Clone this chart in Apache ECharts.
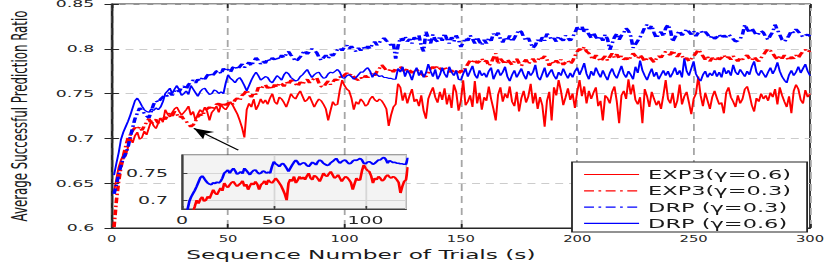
<!DOCTYPE html>
<html><head><meta charset="utf-8">
<script src="https://cdn.jsdelivr.net/npm/echarts@6/dist/echarts.min.js"></script>
<style>
html,body{margin:0;padding:0;background:#fff;overflow:hidden;width:831px;height:262px}
#wrap{width:831px;height:262px;overflow:hidden;position:relative}
#chart{position:absolute;left:0;top:0;height:262px;transform-origin:0 0}
</style></head><body><div id="wrap"><div id="chart"></div></div>
<script>
// ---------- data ----------
const seriesNames = ['EXP3(\u03b3=0.6)', 'EXP3(\u03b3=0.3)', 'DRP (\u03b3=0.3)', 'DRP (\u03b3=0.6)'];
const trials = []; for (let i = 1; i <= 300; i++) trials.push(i);

const exp3g06 = [
0.640,0.655,0.668,0.676,0.682,0.680,0.690,0.701,0.695,0.703,
0.707,0.699,0.701,0.708,0.704,0.712,0.720,0.714,0.711,0.717,
0.723,0.718,0.732,0.727,0.724,0.729,0.733,0.735,0.730,0.726,
0.729,0.732,0.736,0.726,0.730,0.720,0.727,0.732,0.729,0.735,
0.730,0.720,0.729,0.732,0.736,0.729,0.738,0.734,0.732,0.736,
0.741,0.737,0.732,0.727,0.720,0.712,0.701,0.732,0.739,0.735,
0.744,0.732,0.737,0.744,0.739,0.743,0.738,0.745,0.750,0.741,
0.738,0.746,0.744,0.740,0.735,0.742,0.750,0.746,0.744,0.749,
0.753,0.747,0.741,0.743,0.747,0.741,0.735,0.740,0.744,0.742,
0.738,0.733,0.720,0.731,0.741,0.737,0.738,0.754,0.765,0.759,
0.755,0.753,0.745,0.732,0.741,0.738,0.744,0.741,0.736,0.738,
0.744,0.747,0.743,0.741,0.744,0.742,0.738,0.733,0.714,0.726,
0.735,0.738,0.761,0.757,0.742,0.751,0.739,0.748,0.755,0.741,
0.744,0.736,0.748,0.731,0.722,0.744,0.751,0.757,0.746,0.740,
0.752,0.743,0.756,0.738,0.749,0.734,0.760,0.752,0.731,0.742,
0.765,0.737,0.741,0.748,0.735,0.764,0.739,0.751,0.732,0.746,
0.742,0.758,0.744,0.733,0.720,0.749,0.757,0.741,0.750,0.745,
0.758,0.741,0.736,0.752,0.730,0.745,0.753,0.740,0.747,0.761,
0.739,0.751,0.733,0.746,0.737,0.713,0.742,0.752,0.720,0.757,
0.748,0.765,0.753,0.737,0.746,0.756,0.743,0.750,0.734,0.752,
0.765,0.747,0.758,0.739,0.753,0.744,0.751,0.757,0.736,0.742,
0.720,0.748,0.745,0.739,0.752,0.758,0.741,0.717,0.748,0.753,
0.744,0.766,0.749,0.760,0.743,0.738,0.746,0.717,0.755,0.747,
0.735,0.752,0.744,0.737,0.742,0.733,0.748,0.765,0.744,0.739,
0.751,0.734,0.742,0.760,0.738,0.747,0.752,0.740,0.727,0.744,
0.750,0.769,0.748,0.736,0.751,0.742,0.733,0.746,0.753,0.745,
0.738,0.740,0.728,0.751,0.757,0.746,0.741,0.735,0.748,0.739,
0.744,0.755,0.758,0.749,0.737,0.730,0.745,0.741,0.750,0.744,
0.748,0.742,0.751,0.746,0.755,0.738,0.757,0.748,0.741,0.735,
0.747,0.728,0.753,0.760,0.755,0.743,0.739,0.754,0.746,0.750
];

const exp3g03 = [
0.601,0.630,0.652,0.668,0.680,0.691,0.700,0.704,0.709,0.712,
0.710,0.713,0.709,0.714,0.718,0.722,0.716,0.720,0.721,0.717,
0.722,0.724,0.721,0.726,0.728,0.725,0.730,0.727,0.723,0.725,
0.721,0.719,0.716,0.713,0.715,0.719,0.724,0.727,0.725,0.731,
0.733,0.735,0.732,0.736,0.738,0.739,0.735,0.740,0.737,0.739,
0.741,0.738,0.743,0.745,0.742,0.748,0.750,0.754,0.749,0.746,
0.751,0.749,0.757,0.755,0.758,0.760,0.756,0.759,0.755,0.760,
0.757,0.762,0.761,0.758,0.763,0.760,0.765,0.764,0.761,0.758,
0.763,0.760,0.764,0.766,0.762,0.765,0.767,0.768,0.762,0.758,
0.757,0.761,0.764,0.760,0.763,0.766,0.765,0.769,0.767,0.771,
0.773,0.770,0.772,0.769,0.766,0.765,0.768,0.766,0.770,0.768,
0.771,0.773,0.770,0.775,0.778,0.782,0.779,0.776,0.775,0.778,
0.774,0.778,0.776,0.780,0.777,0.774,0.778,0.776,0.773,0.775,
0.777,0.774,0.772,0.770,0.769,0.773,0.778,0.780,0.777,0.781,
0.778,0.776,0.780,0.777,0.774,0.776,0.773,0.775,0.772,0.776,
0.774,0.779,0.783,0.787,0.785,0.788,0.784,0.786,0.789,0.785,
0.787,0.781,0.784,0.790,0.795,0.783,0.789,0.786,0.783,0.788,
0.785,0.782,0.786,0.789,0.784,0.781,0.785,0.788,0.783,0.786,
0.789,0.785,0.787,0.791,0.789,0.792,0.788,0.781,0.786,0.783,
0.787,0.784,0.788,0.782,0.785,0.787,0.783,0.786,0.792,0.797,
0.800,0.798,0.802,0.797,0.795,0.791,0.788,0.793,0.790,0.786,
0.789,0.792,0.787,0.791,0.795,0.790,0.794,0.789,0.792,0.788,
0.790,0.787,0.791,0.795,0.792,0.789,0.793,0.790,0.786,0.789,
0.791,0.788,0.785,0.789,0.792,0.790,0.794,0.797,0.795,0.793,
0.798,0.794,0.791,0.795,0.792,0.788,0.790,0.786,0.789,0.792,
0.795,0.799,0.796,0.792,0.788,0.791,0.786,0.790,0.787,0.791,
0.788,0.790,0.793,0.789,0.791,0.788,0.792,0.789,0.786,0.790,
0.788,0.791,0.793,0.789,0.787,0.791,0.788,0.786,0.790,0.793,
0.797,0.800,0.798,0.795,0.791,0.788,0.792,0.789,0.793,0.790,
0.787,0.791,0.789,0.793,0.790,0.794,0.797,0.799,0.796,0.798
];

const drpg03 = [
0.638,0.648,0.660,0.670,0.678,0.683,0.690,0.702,0.712,0.722,
0.728,0.734,0.731,0.728,0.725,0.723,0.730,0.738,0.742,0.740,
0.744,0.746,0.749,0.747,0.751,0.748,0.753,0.755,0.752,0.757,
0.758,0.755,0.760,0.763,0.765,0.762,0.766,0.764,0.768,0.766,
0.770,0.773,0.769,0.772,0.775,0.776,0.772,0.778,0.775,0.777,
0.774,0.779,0.781,0.777,0.780,0.783,0.779,0.782,0.785,0.781,
0.786,0.790,0.787,0.783,0.786,0.784,0.789,0.786,0.790,0.788,
0.791,0.788,0.793,0.790,0.794,0.797,0.793,0.790,0.786,0.788,
0.791,0.795,0.798,0.794,0.797,0.800,0.798,0.796,0.791,0.787,
0.790,0.793,0.789,0.794,0.792,0.796,0.799,0.801,0.798,0.802,
0.804,0.800,0.803,0.799,0.797,0.801,0.798,0.802,0.799,0.803,
0.800,0.805,0.808,0.804,0.807,0.810,0.812,0.809,0.807,0.804,
0.806,0.789,0.803,0.812,0.809,0.814,0.808,0.811,0.806,0.813,
0.809,0.815,0.803,0.797,0.819,0.812,0.806,0.816,0.810,0.808,
0.814,0.809,0.817,0.811,0.806,0.813,0.808,0.815,0.810,0.802,
0.807,0.812,0.809,0.815,0.811,0.806,0.813,0.808,0.804,0.810,
0.806,0.812,0.809,0.817,0.814,0.818,0.811,0.807,0.813,0.809,
0.815,0.808,0.812,0.817,0.821,0.819,0.813,0.809,0.812,0.806,
0.801,0.804,0.810,0.807,0.813,0.809,0.817,0.814,0.810,0.812,
0.808,0.814,0.811,0.809,0.815,0.812,0.809,0.813,0.818,0.824,
0.821,0.825,0.819,0.822,0.816,0.812,0.818,0.813,0.810,0.814,
0.809,0.816,0.811,0.799,0.806,0.813,0.817,0.810,0.815,0.818,
0.823,0.820,0.814,0.801,0.805,0.809,0.813,0.818,0.824,0.827,
0.822,0.826,0.818,0.812,0.816,0.819,0.814,0.823,0.827,0.821,
0.808,0.813,0.817,0.820,0.815,0.818,0.822,0.819,0.816,0.820,
0.814,0.818,0.820,0.817,0.819,0.816,0.812,0.815,0.811,0.813,
0.816,0.812,0.815,0.813,0.816,0.814,0.811,0.808,0.809,0.811,
0.816,0.827,0.822,0.818,0.823,0.819,0.815,0.817,0.820,0.818,
0.813,0.810,0.815,0.819,0.827,0.821,0.816,0.810,0.808,0.811,
0.815,0.820,0.818,0.822,0.819,0.816,0.813,0.815,0.816,0.814
];

const drpg06 = [
0.659,0.672,0.684,0.699,0.707,0.713,0.719,0.726,0.734,0.742,
0.745,0.741,0.736,0.732,0.730,0.729,0.733,0.731,0.734,0.732,
0.735,0.741,0.750,0.753,0.756,0.750,0.755,0.759,0.754,0.748,
0.750,0.753,0.749,0.759,0.755,0.751,0.747,0.752,0.755,0.756,
0.752,0.749,0.750,0.754,0.753,0.750,0.752,0.750,0.762,0.771,
0.767,0.765,0.762,0.766,0.768,0.764,0.759,0.753,0.759,0.765,
0.770,0.774,0.770,0.765,0.767,0.769,0.768,0.764,0.762,0.766,
0.770,0.768,0.765,0.771,0.774,0.772,0.768,0.766,0.764,0.765,
0.769,0.771,0.774,0.777,0.772,0.768,0.771,0.773,0.774,0.770,
0.767,0.768,0.772,0.774,0.773,0.775,0.777,0.774,0.768,0.767,
0.770,0.771,0.769,0.766,0.768,0.771,0.774,0.774,0.777,0.779,
0.775,0.768,0.773,0.771,0.769,0.770,0.768,0.768,0.767,0.767,
0.766,0.766,0.778,0.774,0.780,0.769,0.776,0.772,0.765,0.774,
0.779,0.770,0.776,0.768,0.773,0.783,0.775,0.769,0.777,0.766,
0.771,0.779,0.772,0.768,0.780,0.774,0.770,0.776,0.766,0.765,
0.772,0.778,0.769,0.775,0.781,0.771,0.767,0.776,0.770,0.773,
0.768,0.775,0.779,0.766,0.772,0.777,0.770,0.774,0.780,0.769,
0.764,0.771,0.776,0.768,0.773,0.778,0.771,0.766,0.775,0.770,
0.774,0.782,0.769,0.765,0.772,0.779,0.768,0.773,0.777,0.770,
0.766,0.774,0.770,0.778,0.772,0.767,0.773,0.768,0.775,0.779,
0.771,0.777,0.784,0.772,0.766,0.775,0.770,0.779,0.773,0.768,
0.776,0.770,0.765,0.773,0.778,0.771,0.767,0.774,0.781,0.772,
0.768,0.775,0.771,0.766,0.780,0.773,0.787,0.776,0.770,0.765,
0.772,0.778,0.769,0.774,0.766,0.771,0.776,0.770,0.775,0.768,
0.773,0.779,0.771,0.776,0.768,0.789,0.775,0.770,0.778,0.786,
0.772,0.767,0.764,0.771,0.775,0.768,0.773,0.770,0.776,0.769,
0.774,0.768,0.779,0.772,0.776,0.770,0.782,0.774,0.771,0.777,
0.773,0.769,0.775,0.771,0.780,0.786,0.774,0.770,0.776,0.772,
0.768,0.774,0.779,0.772,0.777,0.785,0.775,0.769,0.765,0.762,
0.771,0.776,0.770,0.774,0.780,0.773,0.778,0.783,0.775,0.770
];

const xRange = [0, 300], xStep = 50;
const yRange = [0.6, 0.85], yStep = 0.05;
const insetCount = 123;            // trials shown in the zoomed inset
const insetX = [0, 122];
const insetY = [0.685, 0.783];
const arrowFrom = [54.4, 0.687];   // annotation arrow (data coords)
const arrowTo = [35.3, 0.7112];

// ---------- layout ----------
const S = 1.8;                      // the reference is stretched horizontally
const W = 831 / S;
const el = document.getElementById('chart');
el.style.width = W + 'px';
el.style.transform = 'scaleX(' + S + ')';
const px = v => v / S;
const FONT = 'DejaVu Sans';
const INK = '#262626';
const pairs = (arr, n) => arr.slice(0, n || arr.length).map((v, i) => [trials[i], v]);
const DASHDOT = [5.5, 2.5, 1.5, 2.5];

const chart = echarts.init(el, null, { renderer: 'svg', width: W, height: 262 });

const option = {
  animation: false,
  backgroundColor: '#fff',
  grid: [
    { left: px(111.7), right: px(831 - 810), top: 4, bottom: 262 - 228, outerBoundsMode: 'none',
      show: true, borderColor: INK, borderWidth: 1, backgroundColor: 'transparent' },
    { left: px(182), right: px(831 - 406), top: 155, bottom: 262 - 209, outerBoundsMode: 'none',
      show: true, borderColor: '#404040', borderWidth: 1, backgroundColor: '#f3f3f3', z: 5 }
  ],
  legend: {
    data: seriesNames, orient: 'vertical',
    left: px(572), top: 162,
    padding: [6, px(16), 2, px(11)],
    itemWidth: px(55), itemHeight: 12, itemGap: 3.3,
    backgroundColor: '#fff', borderColor: INK, borderWidth: 1, borderRadius: 0,
    itemStyle: { opacity: 0, borderWidth: 0 },
    lineStyle: { width: 1.2 },
    textStyle: { fontFamily: FONT, fontSize: 12.5, color: '#1a1a1a' },
    selectedMode: false
  },
  xAxis: [
    { gridIndex: 0, type: 'value', min: xRange[0], max: xRange[1], interval: xStep,
      axisLine: { show: true, lineStyle: { color: INK } },
      axisTick: { show: true, inside: true, length: 4, lineStyle: { color: INK } },
      axisLabel: { fontFamily: FONT, fontSize: 8.2, color: INK, margin: 7.5 },
      splitLine: { show: true, lineStyle: { color: '#a6a6a6', type: [7, 5], width: 1 } },
      name: 'Sequence Number of Trials (s)', nameLocation: 'middle', nameGap: 16.5,
      nameTextStyle: { fontFamily: FONT, fontSize: 12.9, color: '#1a1a1a', padding: [0, px(200), 0, 0] } },
    { gridIndex: 0, type: 'value', position: 'top', min: xRange[0], max: xRange[1], interval: xStep,
      axisLine: { show: false }, axisTick: { show: true, inside: true, length: 4, lineStyle: { color: INK } },
      axisLabel: { show: false }, splitLine: { show: false } },
    { gridIndex: 1, type: 'value', min: insetX[0], max: insetX[1], interval: 50, z: 6,
      axisLine: { show: true, lineStyle: { color: '#404040' } },
      axisTick: { show: true, inside: true, length: 3, lineStyle: { color: '#404040' } },
      axisLabel: { fontFamily: FONT, fontSize: 10.5, color: INK, margin: 6, showMaxLabel: false },
      splitLine: { show: true, lineStyle: { color: '#d6d6d6', type: 'solid', width: 1 } } }
  ],
  yAxis: [
    { gridIndex: 0, type: 'value', min: yRange[0], max: yRange[1], interval: yStep,
      axisLine: { show: true, lineStyle: { color: INK } },
      axisTick: { show: true, inside: true, length: 4, lineStyle: { color: INK } },
      axisLabel: { fontFamily: FONT, fontSize: 9.6, lineHeight: 8, color: INK, margin: px(17.5) },
      splitLine: { show: true, lineStyle: { color: '#cccccc', type: [4.4, 3.3], width: 1 } },
      name: 'Average Successful Prediction Ratio', nameLocation: 'middle', nameGap: 45,
      nameTextStyle: { fontFamily: FONT, fontSize: 11.8, color: '#1a1a1a' } },
    { gridIndex: 0, type: 'value', position: 'right', min: yRange[0], max: yRange[1], interval: yStep,
      axisLine: { show: false }, axisTick: { show: true, inside: true, length: 4, lineStyle: { color: INK } },
      axisLabel: { show: false }, splitLine: { show: false } },
    { gridIndex: 1, type: 'value', min: insetY[0], max: insetY[1], splitNumber: 2, z: 6,
      axisLine: { show: true, lineStyle: { color: '#404040' } },
      axisTick: { show: true, inside: true, length: 3, lineStyle: { color: '#404040' } },
      axisLabel: { fontFamily: FONT, fontSize: 10.5, color: INK, margin: px(14), showMinLabel: false, showMaxLabel: false },
      splitLine: { show: true, lineStyle: { color: '#d6d6d6', type: 'solid', width: 1 } } }
  ],
  series: [
    { name: seriesNames[0], type: 'line', xAxisIndex: 0, yAxisIndex: 0, data: pairs(exp3g06),
      symbol: 'none', z: 2, itemStyle: { color: '#ff0000' },
      lineStyle: { color: '#ff0000', width: 1.1, type: 'solid' } },
    { name: seriesNames[1], type: 'line', xAxisIndex: 0, yAxisIndex: 0, data: pairs(exp3g03),
      symbol: 'none', z: 2, itemStyle: { color: '#ff0000' },
      lineStyle: { color: '#ff0000', width: 2, type: DASHDOT },
      markLine: { silent: true, symbol: ['none', 'arrow'], symbolSize: [7, 11],
        lineStyle: { color: '#000', width: 1, type: 'solid' }, label: { show: false },
        data: [[{ coord: arrowFrom }, { coord: arrowTo }]] } },
    { name: seriesNames[2], type: 'line', xAxisIndex: 0, yAxisIndex: 0, data: pairs(drpg03),
      symbol: 'none', z: 2, itemStyle: { color: '#0000ff' },
      lineStyle: { color: '#0000ff', width: 2, type: DASHDOT } },
    { name: seriesNames[3], type: 'line', xAxisIndex: 0, yAxisIndex: 0, data: pairs(drpg06),
      symbol: 'none', z: 2, itemStyle: { color: '#0000ff' },
      lineStyle: { color: '#0000ff', width: 1.1, type: 'solid' } },
    { name: 'inset ' + seriesNames[3], type: 'line', xAxisIndex: 2, yAxisIndex: 2, data: pairs(drpg06, insetCount),
      symbol: 'none', z: 7, clip: true, lineStyle: { color: '#0000ff', width: 1.5 } },
    { name: 'inset ' + seriesNames[0], type: 'line', xAxisIndex: 2, yAxisIndex: 2, data: pairs(exp3g06, insetCount),
      symbol: 'none', z: 7, clip: true, lineStyle: { color: '#ff0000', width: 1.5 } }
  ]
};
chart.setOption(option);
</script></body></html>
